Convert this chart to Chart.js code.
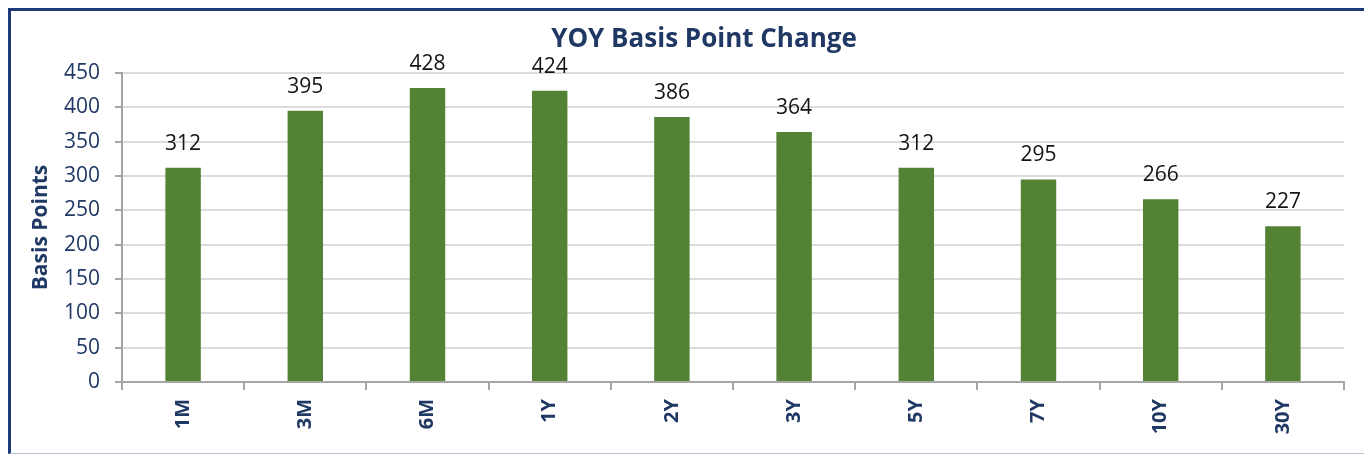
<!DOCTYPE html>
<html>
<head>
<meta charset="utf-8">
<title>YOY Basis Point Change</title>
<script src="https://cdn.jsdelivr.net/npm/chart.js@4"></script>
<style>
    html, body { margin: 0; padding: 0; background: #fff; overflow: hidden; }
    .wrap { position: relative; width: 1364px; height: 455px; }
    .frame {
        position: absolute; left: 8px; top: 8px; width: 1400px; height: 446px;
        box-sizing: border-box;
        border-top: 3px solid #1c3a78;
        border-left: 3px solid #1c3a78;
        border-bottom: 1px solid #b8c3d6;
        pointer-events: none;
    }
</style>
</head>
<body>
<div class="wrap">
    <canvas id="chart" width="1364" height="455"></canvas>
    <div class="frame"></div>
</div>
<script>
const chartTitle = 'YOY Basis Point Change';
const categories = ['1M', '3M', '6M', '1Y', '2Y', '3Y', '5Y', '7Y', '10Y', '30Y'];
const bpChange = [312, 395, 428, 424, 386, 364, 312, 295, 266, 227];
const yTicks = [0, 50, 100, 150, 200, 250, 300, 350, 400, 450];

const navy = '#1f3864';
const axisGray = '#a6a6a6';

// title sits a bit right of the canvas centre, like the original
const titleText = {
    id: 'titleText',
    afterDraw(chart) {
        const ctx = chart.ctx;
        ctx.save();
        ctx.font = 'bold 26px "Open Sans"';
        ctx.fillStyle = navy;
        ctx.textAlign = 'center';
        ctx.textBaseline = 'middle';
        ctx.fillText(chartTitle, 704, 40);
        ctx.restore();
    }
};

// draws the value above each bar
const barLabels = {
    id: 'barLabels',
    afterDatasetsDraw(chart) {
        const ctx = chart.ctx;
        const meta = chart.getDatasetMeta(0);
        ctx.save();
        ctx.font = '21px "Open Sans"';
        ctx.fillStyle = '#141414';
        ctx.textAlign = 'center';
        ctx.textBaseline = 'alphabetic';
        meta.data.forEach((bar, i) => {
            ctx.fillText(String(bpChange[i]), bar.x, bar.y - 18);
        });
        ctx.restore();
    }
};

new Chart(document.getElementById('chart'), {
    type: 'bar',
    data: {
        labels: categories,
        datasets: [{
            data: bpChange,
            backgroundColor: '#548235',
            borderWidth: 0,
            categoryPercentage: 1,
            barPercentage: 0.29
        }]
    },
    options: {
        responsive: false,
        animation: false,
        layout: { padding: { top: 73, left: 18, right: 20, bottom: 0 } },
        plugins: {
            legend: { display: false },
            tooltip: { enabled: false },
            title: { display: false }
        },
        scales: {
            x: {
                afterFit: scale => { scale.height = 73; },
                border: { color: axisGray, width: 2 },
                grid: {
                    drawOnChartArea: false,
                    color: axisGray,
                    lineWidth: 2,
                    tickLength: 8,
                    offset: true
                },
                ticks: {
                    color: navy,
                    font: { family: 'Open Sans', size: 20, weight: 'bold' },
                    minRotation: 90,
                    maxRotation: 90,
                    autoSkip: false,
                    padding: 9
                }
            },
            y: {
                min: 0,
                max: 450,
                afterFit: scale => { scale.width = 104; },
                afterBuildTicks: scale => { scale.ticks = yTicks.map(v => ({ value: v })); },
                border: { color: axisGray, width: 2 },
                grid: {
                    color: '#dcdcdc',
                    lineWidth: 2,
                    tickColor: axisGray,
                    tickLength: 7
                },
                ticks: {
                    color: navy,
                    font: { family: 'Open Sans', size: 21 },
                    padding: 15
                },
                title: {
                    display: true,
                    text: 'Basis Points',
                    color: navy,
                    font: { family: 'Open Sans', size: 21, weight: 'bold' },
                    padding: { top: 10, bottom: 0 }
                }
            }
        }
    },
    plugins: [barLabels, titleText]
});
</script>
</body>
</html>
